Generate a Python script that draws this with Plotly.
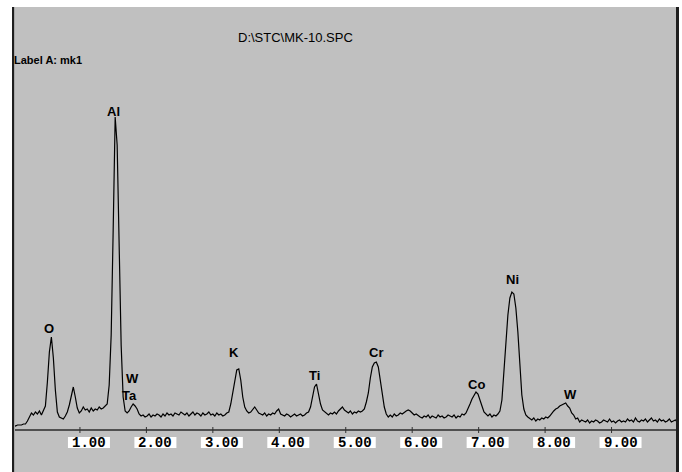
import plotly.graph_objects as go

# ---------------- data ----------------
CHANNEL_WIDTH_KEV = 0.03  # energy calibration of the spectrum channels (keV per channel)

counts = [
    5, 4, 5, 5, 5, 6, 6, 9, 14, 17,
    15, 18, 16, 19, 15, 20, 24, 48, 78, 93,
    72, 40, 18, 13, 12, 11, 14, 18, 25, 34,
    43, 33, 22, 17, 19, 23, 20, 21, 18, 22,
    19, 21, 20, 23, 21, 22, 24, 26, 45, 95,
    200, 313, 285, 175, 85, 33, 19, 17, 19, 23,
    26, 24, 21, 16, 14,
    15, 13, 14, 16, 13, 15, 14, 16, 15, 13,
    16, 14, 17, 15, 16, 14, 17, 16, 15, 18,
    16, 15, 17, 14, 16, 18, 15, 17, 16, 14,
    17, 15, 16, 18, 15, 16, 14, 17, 15, 16,
    14, 15, 17,
    18, 26, 38, 52, 60, 61, 50, 33, 23, 19, 17, 18, 21, 23, 20, 17,
    16, 15, 17, 14, 16, 15, 17, 16, 19, 21,
    16, 15, 14, 16, 15, 13, 15, 16, 14, 15,
    16, 14, 15, 17,
    18, 23, 33, 43, 46, 36, 26, 20, 18, 16,
    15, 17, 16, 18, 16, 19, 21, 23, 20, 18,
    17, 19, 16, 18, 17, 19, 18,
    19, 21, 28, 37, 52, 63, 67, 68, 63, 50, 36, 23, 16, 13,
    15, 13, 16, 14, 15, 17, 16, 18, 19, 20,
    19, 17, 15, 16, 14, 13, 12, 14, 13, 15,
    12, 14, 13, 12, 15, 13, 14, 12, 13, 15,
    14, 13, 15, 12, 14, 13, 16, 15, 17,
    21, 26, 31, 35, 38, 36, 31, 24, 18, 16, 14, 16, 13, 15, 14,
    16, 19, 30, 58, 90, 115, 132, 138, 136, 122, 98, 62, 35, 21, 15, 13,
    11, 10, 12, 9, 11, 10, 12, 11, 13, 12,
    14, 17, 19, 21, 22, 24, 25, 26, 27, 24,
    22, 17, 15, 11, 12, 8, 10,
    9, 8, 10, 7, 9, 8, 10, 9, 7, 8,
    10, 9, 8, 11, 8, 9, 7, 9, 10, 8,
    9, 8, 11, 9, 10, 8, 12, 9, 8, 10,
    9, 11, 8, 10, 12, 9, 10, 8, 11, 9,
    10, 8, 9, 11, 8, 9, 10, 8, 9, 10,
    9,
]
energy_keV = [round(i * CHANNEL_WIDTH_KEV, 3) for i in range(len(counts))]

peak_labels = ["O", "Al", "W", "Ta", "K", "Ti", "Cr", "Co", "Ni", "W"]
peak_label_keV = [0.527, 1.512, 1.791, 1.753, 3.311, 4.537, 5.455, 6.975, 7.509, 8.382]
peak_label_counts = [102, 319, 52, 35, 77.5, 54.5, 77.5, 46, 151, 35.5]

tick_values = [1, 2, 3, 4, 5, 6, 7, 8, 9]
tick_labels = ["1.00", "2.00", "3.00", "4.00", "5.00", "6.00", "7.00", "8.00", "9.00"]

title_text = "D:\\STC\\MK-10.SPC"
label_text = "Label A: mk1"

# ---------------- figure ----------------
W, H = 682, 472
ML, MR, MT, MB = 12, 3, 7, 0
PX_PER_KEV = 66.45
X0_PX = 13.5     # pixel of 0 keV
AXIS_PX = 430    # pixel row of the zero-count axis line

x_min = (ML - X0_PX) / PX_PER_KEV
x_max = (W - MR - X0_PX) / PX_PER_KEV
y_min = AXIS_PX - H
y_max = AXIS_PX - MT
kev_per_px = 1.0 / PX_PER_KEV

fig = go.Figure()
fig.add_trace(go.Scatter(
    x=energy_keV, y=counts, mode="lines",
    line=dict(color="#000000", width=1.2),
    hoverinfo="skip", showlegend=False,
))

shapes = []
# axis line
shapes.append(dict(type="line", xref="paper", yref="y", x0=0, x1=1, y0=0, y1=0,
                   line=dict(color="#505050", width=2), layer="above"))
# ticks + label boxes
annotations = []
for tv, tl in zip(tick_values, tick_labels):
    shapes.append(dict(type="line", xref="x", yref="y", x0=tv, x1=tv, y0=-3, y1=3,
                       line=dict(color="#303030", width=1), layer="above"))
    shapes.append(dict(type="rect", xref="x", yref="y",
                       x0=tv - 12 * kev_per_px, x1=tv + 30 * kev_per_px, y0=-18, y1=-7,
                       fillcolor="#ffffff", line=dict(width=0), layer="above"))
    annotations.append(dict(x=tv + 9 * kev_per_px, y=-12.5, xref="x", yref="y",
                            text="<b>" + tl + "</b>", showarrow=False,
                            xanchor="center", yanchor="middle",
                            font=dict(family="Liberation Mono", size=14, color="#000000")))
# frame borders
pw = W - ML - MR
shapes.append(dict(type="rect", xref="paper", yref="paper", x0=0, x1=2 / pw, y0=0, y1=1,
                   fillcolor="#1e1e1e", line=dict(width=0), layer="above"))
shapes.append(dict(type="rect", xref="paper", yref="paper", x0=2 / pw, x1=3 / pw, y0=0, y1=1,
                   fillcolor="#a8a8a8", line=dict(width=0), layer="above"))
shapes.append(dict(type="rect", xref="paper", yref="paper", x0=(pw - 3) / pw, x1=1, y0=0, y1=1,
                   fillcolor="#1e1e1e", line=dict(width=0), layer="above"))

# peak labels
for lab, ex, cy in zip(peak_labels, peak_label_keV, peak_label_counts):
    annotations.append(dict(x=ex, y=cy, xref="x", yref="y", text="<b>" + lab + "</b>",
                            showarrow=False, xanchor="center", yanchor="middle",
                            font=dict(family="Liberation Sans", size=13, color="#000000")))

# header texts
annotations.append(dict(x=(295 - X0_PX) * kev_per_px, y=AXIS_PX - 37, xref="x", yref="y",
                        text=title_text, showarrow=False, xanchor="center", yanchor="middle",
                        font=dict(family="Liberation Sans", size=13, color="#000000")))
annotations.append(dict(x=(12 - X0_PX) * kev_per_px, y=AXIS_PX - 60, xref="x", yref="y",
                        text="<b>" + label_text + "</b>", showarrow=False,
                        xanchor="left", yanchor="middle",
                        font=dict(family="Liberation Sans", size=11, color="#000000")))

fig.update_layout(
    width=W, height=H,
    margin=dict(l=ML, r=MR, t=MT, b=MB, pad=0),
    paper_bgcolor="#ffffff",
    plot_bgcolor="#c0c0c0",
    showlegend=False,
    hovermode=False,
    xaxis=dict(range=[x_min, x_max], visible=False, fixedrange=True),
    yaxis=dict(range=[y_min, y_max], visible=False, fixedrange=True),
    shapes=shapes,
    annotations=annotations,
)

fig.write_html(
    "out.html",
    config={"displayModeBar": False},
    post_script="document.body.style.margin='0px';document.body.style.padding='0px';",
)
